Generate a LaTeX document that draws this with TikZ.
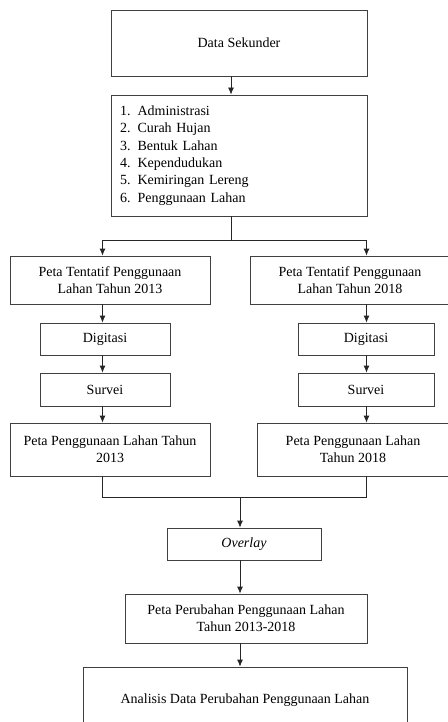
\documentclass[tikz,border=0pt]{standalone}
\usepackage{fontspec}
\setmainfont{Liberation Serif}
\usetikzlibrary{arrows.meta}

\begin{document}
\begin{tikzpicture}
  [x=1pt,y=-1pt,
   kotak/.style={draw=black!75,line width=0.8pt,inner sep=0pt,align=center,
     font=\fontsize{14}{17.3}\selectfont},
   panah/.style={-{Latex[length=7pt,width=6pt]},line width=0.8pt,draw=black!85},
   garis/.style={line width=0.8pt,draw=black!85}]
  \useasboundingbox (0,0) rectangle (447,722);

  \node[kotak,minimum width=256,minimum height=66] (sek) at (239,43) {Data Sekunder};
  \node[kotak,minimum width=256,minimum height=121,text width=238,align=left] (list) at (239,155.5)
    {1. Administrasi\\2. Curah Hujan\\3. Bentuk Lahan\\4. Kependudukan\\5. Kemiringan Lereng\\6. Penggunaan Lahan};

  \node[kotak,minimum width=200,minimum height=48] (t13) at (110,280) {Peta Tentatif Penggunaan\\Lahan Tahun 2013};
  \node[kotak,minimum width=200,minimum height=48] (t18) at (350,280) {Peta Tentatif Penggunaan\\Lahan Tahun 2018};
  \node[kotak,minimum width=130,minimum height=32] (dig13) at (105,339) {Digitasi};
  \node[kotak,minimum width=136,minimum height=32] (dig18) at (366,339) {Digitasi};
  \node[kotak,minimum width=130,minimum height=33] (sur13) at (105,389.5) {Survei};
  \node[kotak,minimum width=136,minimum height=33] (sur18) at (366,389.5) {Survei};
  \node[kotak,minimum width=200,minimum height=53] (p13) at (110,449.5) {Peta Penggunaan Lahan Tahun\\2013};
  \node[kotak,minimum width=192,minimum height=53] (p18) at (353,449.5) {Peta Penggunaan Lahan\\Tahun 2018};

  \node[kotak,minimum width=154,minimum height=32] (ovl) at (244,544) {\itshape Overlay};
  \node[kotak,minimum width=242,minimum height=49] (ubah) at (246,618.5) {Peta Perubahan Penggunaan Lahan\\Tahun 2013-2018};
  \node[kotak,minimum width=324,minimum height=66] (anls) at (245,700) {Analisis Data Perubahan Penggunaan Lahan};

  % arah garis
  \coordinate (colM) at (231,0);
  \coordinate (colL) at (102.5,0);
  \coordinate (colR) at (366.5,0);
  \coordinate (colO) at (240,0);
  \coordinate (split) at (231,240);
  \coordinate (join) at (240,497.5);

\foreach \from/\to/\col in
{sek/list/colM, t13/dig13/colL, dig13/sur13/colL, sur13/p13/colL,
 t18/dig18/colR, dig18/sur18/colR, sur18/p18/colR,
 ovl/ubah/colO, ubah/anls/colO}
    \draw[panah] (\from.south -| \col) -- (\to.north -| \col);

  \draw[garis] (list.south -| colM) -- (split);
  \draw[panah] (split) -| (t13.north -| colL);
  \draw[panah] (split) -| (t18.north -| colR);
  \draw[garis] (p13.south -| colL) |- (join) -| (p18.south -| colR);
  \draw[panah] (join) -- (ovl.north -| colO);
\end{tikzpicture}
\end{document}
